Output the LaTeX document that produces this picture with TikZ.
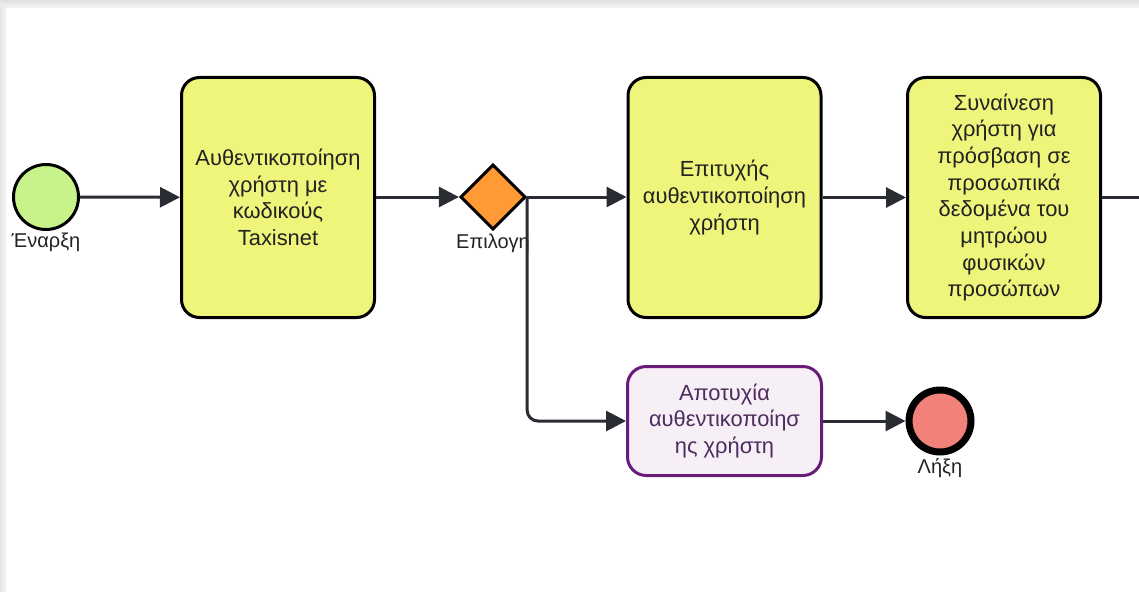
\documentclass[tikz,border=0pt]{standalone}
\usepackage{fontspec}
\setmainfont{Liberation Sans}
\usetikzlibrary{shapes.geometric,arrows.meta}
\definecolor{startfill}{HTML}{C8F38A}
\definecolor{taskfill}{HTML}{EFF47A}
\definecolor{gatefill}{HTML}{FF9A35}
\definecolor{endfill}{HTML}{F28179}
\definecolor{failfill}{HTML}{F6EFF5}
\definecolor{failedge}{HTML}{6A1B7A}
\definecolor{failtext}{HTML}{4E2A5E}
\definecolor{flowcol}{HTML}{2A2C33}
\definecolor{textcol}{HTML}{222222}
\tikzset{
  task/.style={draw=black, line width=2.25pt, fill=taskfill, rounded corners=13.5pt,
    minimum width=144.75pt, minimum height=180pt, align=center, inner sep=0pt,
    text=textcol, font=\fontsize{16.4}{20}\selectfont},
  failtask/.style={draw=failedge, line width=2.25pt, fill=failfill, rounded corners=14pt,
    minimum width=145.5pt, minimum height=81.75pt, align=center, inner sep=0pt,
    text=failtext, font=\fontsize{16.4}{20}\selectfont},
  startev/.style={circle, draw=black, line width=2.25pt, fill=startfill,
    minimum size=48.75pt, inner sep=0pt},
  endev/.style={circle, draw=black, line width=5.25pt, fill=endfill,
    minimum size=46.5pt, inner sep=0pt},
  gateway/.style={diamond, draw=black, line width=2.25pt, fill=gatefill,
    minimum width=49pt, minimum height=49pt, inner sep=0pt},
  evlabel/.style={text=textcol, font=\fontsize{15}{17}\selectfont, inner sep=0pt},
  flow/.style={draw=flowcol, line width=2.25pt,
    -{Triangle[length=15pt,width=15pt]}},
  plainflow/.style={draw=flowcol, line width=2.25pt},
}
\begin{document}
\begin{tikzpicture}[x=0.75pt, y=-0.75pt]
  \useasboundingbox (0,0) rectangle (1139,592);
  \fill[white] (0,0) rectangle (1139,592);
  % frame shadow along the top and left edges
  \shade[top color=black!12, bottom color=black!4] (0,0) rectangle (1139,8);
  \shade[left color=black!10, right color=black!4] (0,8) rectangle (6,592);

  % events, tasks and gateway
  \node[startev] (start) at (46,197) {};
  \node[evlabel, anchor=north] (startlbl) at (46,233) {Έναρξη};

  \node[task] (t1) at (278,197.5) {Αυθεντικοποίηση\\χρήστη με\\κωδικούς\\Taxisnet};

  \node[gateway] (gw) at (493,197) {};
  \node[evlabel, anchor=north] (gwlbl) at (493,234) {Επιλογη};

  \node[task] (t2) at (724.5,197.5) {Επιτυχής\\αυθεντικοποίηση\\χρήστη};

  \node[task] (t3) at (1004,197.5) {Συναίνεση\\χρήστη για\\πρόσβαση σε\\προσωπικά\\δεδομένα του\\μητρώου\\φυσικών\\προσώπων};

  \node[failtask] (t4) at (724.5,421) {Αποτυχία\\αυθεντικοποίησ\\ης χρήστη};

  \node[endev] (end) at (940,421) {};
  \node[evlabel, anchor=north] (endlbl) at (940,458) {Λήξη};

  \coordinate (out) at (1139,197.5);

  % sequence flows
  \draw[flow] (start) -- (t1);
  \draw[flow] (t1.east |- gw.west) -- (gw.west);
  \draw[flow] (gw.east) -- (t2.west |- gw.east);
  \draw[flow] (t2) -- (t3);
  \draw[plainflow] (t3.east |- out) -- (out);
  \draw[flow, rounded corners=8pt] (gw.east) |- (t4.west);
  \draw[flow] (t4) -- (end);
\end{tikzpicture}
\end{document}
